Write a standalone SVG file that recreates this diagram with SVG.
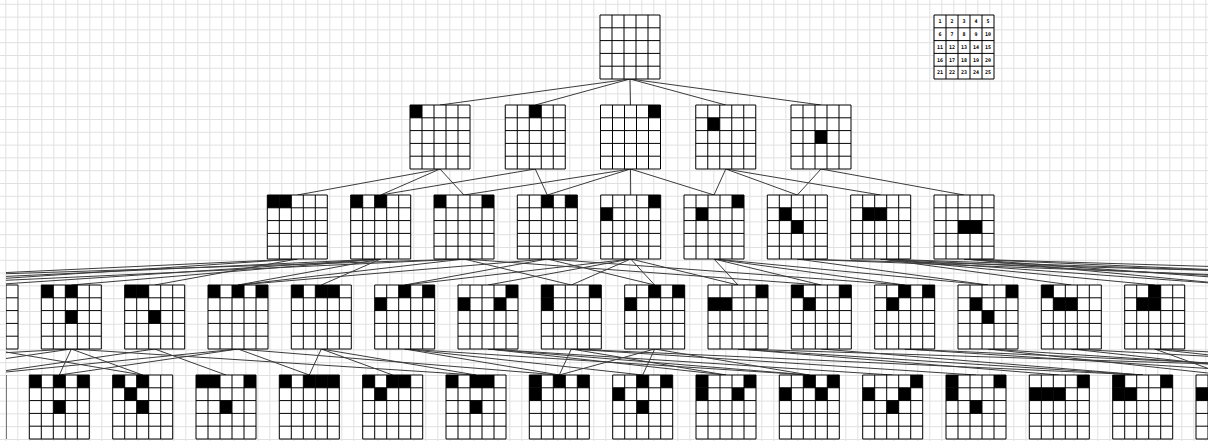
<svg xmlns="http://www.w3.org/2000/svg" width="1208" height="441" viewBox="0 0 1208 441">
<style>
.ln{stroke:#000;stroke-width:1;fill:none}
.e path{stroke:#3c3c3c;stroke-width:1;fill:none}
.t{font-family:"DejaVu Sans Mono","Liberation Mono",monospace;font-size:5px;font-weight:bold;text-anchor:middle;fill:#000}
</style>
<defs>
<pattern id="bg" patternUnits="userSpaceOnUse" x="5.33" y="3.8" width="12" height="12.8"><path d="M0,0.5H12M0.5,0V12.8" stroke="#e0e0e0" stroke-width="1" fill="none"/></pattern>
<g id="g"><rect width="60" height="64" fill="#fff"/><path class="ln" d="M0,0H60V64H0Z M12,0V64M24,0V64M36,0V64M48,0V64M0,12.8H60M0,25.6H60M0,38.4H60M0,51.2H60"/></g>
<rect id="c" width="12" height="12.8" fill="#000"/>
<clipPath id="cl"><rect x="6" y="0" width="1202" height="441"/></clipPath>
</defs>
<rect width="1208" height="441" fill="#fff"/>
<rect width="1208" height="441" fill="url(#bg)"/>
<g clip-path="url(#cl)">
<g id="connectors" class="e">
<path d="M630,79L440,105M630,79L535.25,105M630,79L630.5,105M630,79L725.75,105M630,79L821,105"/>
<path d="M440,169L297.3,195M440,169L380.7,195M440,169L464,195M535.25,169L380.7,195M535.25,169L547.3,195M630.5,169L464,195M630.5,169L547.3,195M630.5,169L630.7,195M630.5,169L714,195M725.75,169L714,195M725.75,169L797.3,195M725.75,169L880.7,195M821,169L797.3,195M821,169L964,195"/>
<path d="M297.3,259L154.7,285M380.7,259L71.3,285M380.7,259L238,285M380.7,259L321.3,285M464,259L238,285M464,259L571.3,285M464,259L821.3,285M547.3,259L238,285M547.3,259L404.7,285M547.3,259L654.7,285M547.3,259L904.7,285M630.7,259L404.7,285M630.7,259L488,285M630.7,259L571.3,285M630.7,259L654.7,285M630.7,259L738,285M714,259L738,285M714,259L821.3,285M714,259L904.7,285M714,259L988,285M797.3,259L988,285M880.7,259L1071.3,285M880.7,259L1154.7,285"/>
<path d="M297.3,259L-95.3,285M297.3,259L-262,285M380.7,259L-12,285M380.7,259L-178.7,285M464,259L-95.3,285M464,259L-345,285M797.3,259L1488,285M797.3,259L1738,285M880.7,259L1238,285M880.7,259L1404.7,285M880.7,259L1654,285M964,259L1238,285M964,259L1321.3,285M964,259L1571.3,285M964,259L1821,285"/>
<path d="M71.3,349L59.3,375M71.3,349L142.7,375M71.3,349L476,375M154.7,349L226,375M238,349L59.3,375M238,349L309.3,375M238,349L559.3,375M321.3,349L309.3,375M321.3,349L392.7,375M321.3,349L476,375M404.7,349L559.3,375M404.7,349L642.7,375M404.7,349L809.3,375M488,349L726,375M488,349L809.3,375M488,349L892.7,375M571.3,349L559.3,375M571.3,349L726,375M571.3,349L976,375M571.3,349L1142.7,375M654.7,349L559.3,375M654.7,349L642.7,375M654.7,349L809.3,375M738,349L1059.3,375M738,349L1142.7,375M821.3,349L1142.7,375"/>
<path d="M-12,349L142.7,375M71.3,349L-107.3,375M154.7,349L-24,375M238,349L-24,375M71.3,349L-390,375M738,349L1559.3,375M904.7,349L1309.3,375M904.7,349L1476,375M988,349L1226,375M988,349L1392.7,375M1071.3,349L1309.3,375M1071.3,349L1559.3,375M1154.7,349L1226,375M1154.7,349L1392.7,375M1154.7,349L1642.7,375"/>
</g>
<g id="n0"><use href="#g" x="600" y="15"/></g>
<g id="n1-1"><use href="#g" x="410" y="105"/><use href="#c" x="410" y="105"/></g>
<g id="n1-2"><use href="#g" x="505.25" y="105"/><use href="#c" x="529.25" y="105"/></g>
<g id="n1-3"><use href="#g" x="600.5" y="105"/><use href="#c" x="648.5" y="105"/></g>
<g id="n1-4"><use href="#g" x="695.75" y="105"/><use href="#c" x="707.75" y="117.8"/></g>
<g id="n1-5"><use href="#g" x="791" y="105"/><use href="#c" x="815" y="130.6"/></g>
<g id="n2-0"><use href="#g" x="267.3" y="195"/><use href="#c" x="267.3" y="195"/><use href="#c" x="279.3" y="195"/></g>
<g id="n2-1"><use href="#g" x="350.7" y="195"/><use href="#c" x="350.7" y="195"/><use href="#c" x="374.7" y="195"/></g>
<g id="n2-2"><use href="#g" x="434" y="195"/><use href="#c" x="434" y="195"/><use href="#c" x="482" y="195"/></g>
<g id="n2-3"><use href="#g" x="517.3" y="195"/><use href="#c" x="541.3" y="195"/><use href="#c" x="565.3" y="195"/></g>
<g id="n2-4"><use href="#g" x="600.7" y="195"/><use href="#c" x="648.7" y="195"/><use href="#c" x="600.7" y="207.8"/></g>
<g id="n2-5"><use href="#g" x="684" y="195"/><use href="#c" x="732" y="195"/><use href="#c" x="696" y="207.8"/></g>
<g id="n2-6"><use href="#g" x="767.3" y="195"/><use href="#c" x="779.3" y="207.8"/><use href="#c" x="791.3" y="220.6"/></g>
<g id="n2-7"><use href="#g" x="850.7" y="195"/><use href="#c" x="862.7" y="207.8"/><use href="#c" x="874.7" y="207.8"/></g>
<g id="n2-8"><use href="#g" x="934" y="195"/><use href="#c" x="958" y="220.6"/><use href="#c" x="970" y="220.6"/></g>
<g id="n3-0"><use href="#g" x="-42" y="285"/></g>
<g id="n3-1"><use href="#g" x="41.3" y="285"/><use href="#c" x="41.3" y="285"/><use href="#c" x="65.3" y="285"/><use href="#c" x="65.3" y="310.6"/></g>
<g id="n3-2"><use href="#g" x="124.7" y="285"/><use href="#c" x="124.7" y="285"/><use href="#c" x="136.7" y="285"/><use href="#c" x="148.7" y="310.6"/></g>
<g id="n3-3"><use href="#g" x="208" y="285"/><use href="#c" x="208" y="285"/><use href="#c" x="232" y="285"/><use href="#c" x="256" y="285"/></g>
<g id="n3-4"><use href="#g" x="291.3" y="285"/><use href="#c" x="291.3" y="285"/><use href="#c" x="315.3" y="285"/><use href="#c" x="327.3" y="285"/></g>
<g id="n3-5"><use href="#g" x="374.7" y="285"/><use href="#c" x="398.7" y="285"/><use href="#c" x="422.7" y="285"/><use href="#c" x="374.7" y="297.8"/></g>
<g id="n3-6"><use href="#g" x="458" y="285"/><use href="#c" x="506" y="285"/><use href="#c" x="458" y="297.8"/><use href="#c" x="494" y="297.8"/></g>
<g id="n3-7"><use href="#g" x="541.3" y="285"/><use href="#c" x="541.3" y="285"/><use href="#c" x="589.3" y="285"/><use href="#c" x="541.3" y="297.8"/></g>
<g id="n3-8"><use href="#g" x="624.7" y="285"/><use href="#c" x="648.7" y="285"/><use href="#c" x="672.7" y="285"/><use href="#c" x="624.7" y="297.8"/></g>
<g id="n3-9"><use href="#g" x="708" y="285"/><use href="#c" x="756" y="285"/><use href="#c" x="708" y="297.8"/><use href="#c" x="720" y="297.8"/></g>
<g id="n3-10"><use href="#g" x="791.3" y="285"/><use href="#c" x="791.3" y="285"/><use href="#c" x="839.3" y="285"/><use href="#c" x="803.3" y="297.8"/></g>
<g id="n3-11"><use href="#g" x="874.7" y="285"/><use href="#c" x="898.7" y="285"/><use href="#c" x="922.7" y="285"/><use href="#c" x="886.7" y="297.8"/></g>
<g id="n3-12"><use href="#g" x="958" y="285"/><use href="#c" x="1006" y="285"/><use href="#c" x="970" y="297.8"/><use href="#c" x="982" y="310.6"/></g>
<g id="n3-13"><use href="#g" x="1041.3" y="285"/><use href="#c" x="1041.3" y="285"/><use href="#c" x="1053.3" y="297.8"/><use href="#c" x="1065.3" y="297.8"/></g>
<g id="n3-14"><use href="#g" x="1124.7" y="285"/><use href="#c" x="1148.7" y="285"/><use href="#c" x="1136.7" y="297.8"/><use href="#c" x="1148.7" y="297.8"/></g>
<g id="n4-0"><use href="#g" x="-54" y="375"/></g>
<g id="n4-1"><use href="#g" x="29.3" y="375"/><use href="#c" x="29.3" y="375"/><use href="#c" x="53.3" y="375"/><use href="#c" x="77.3" y="375"/><use href="#c" x="53.3" y="400.6"/></g>
<g id="n4-2"><use href="#g" x="112.7" y="375"/><use href="#c" x="112.7" y="375"/><use href="#c" x="136.7" y="375"/><use href="#c" x="124.7" y="387.8"/><use href="#c" x="136.7" y="400.6"/></g>
<g id="n4-3"><use href="#g" x="196" y="375"/><use href="#c" x="196" y="375"/><use href="#c" x="208" y="375"/><use href="#c" x="244" y="375"/><use href="#c" x="220" y="400.6"/></g>
<g id="n4-4"><use href="#g" x="279.3" y="375"/><use href="#c" x="279.3" y="375"/><use href="#c" x="303.3" y="375"/><use href="#c" x="315.3" y="375"/><use href="#c" x="327.3" y="375"/></g>
<g id="n4-5"><use href="#g" x="362.7" y="375"/><use href="#c" x="362.7" y="375"/><use href="#c" x="386.7" y="375"/><use href="#c" x="398.7" y="375"/><use href="#c" x="374.7" y="387.8"/></g>
<g id="n4-6"><use href="#g" x="446" y="375"/><use href="#c" x="446" y="375"/><use href="#c" x="470" y="375"/><use href="#c" x="482" y="375"/><use href="#c" x="470" y="400.6"/></g>
<g id="n4-7"><use href="#g" x="529.3" y="375"/><use href="#c" x="529.3" y="375"/><use href="#c" x="553.3" y="375"/><use href="#c" x="577.3" y="375"/><use href="#c" x="529.3" y="387.8"/></g>
<g id="n4-8"><use href="#g" x="612.7" y="375"/><use href="#c" x="636.7" y="375"/><use href="#c" x="660.7" y="375"/><use href="#c" x="612.7" y="387.8"/><use href="#c" x="636.7" y="400.6"/></g>
<g id="n4-9"><use href="#g" x="696" y="375"/><use href="#c" x="696" y="375"/><use href="#c" x="744" y="375"/><use href="#c" x="696" y="387.8"/><use href="#c" x="732" y="387.8"/></g>
<g id="n4-10"><use href="#g" x="779.3" y="375"/><use href="#c" x="803.3" y="375"/><use href="#c" x="827.3" y="375"/><use href="#c" x="779.3" y="387.8"/><use href="#c" x="815.3" y="387.8"/></g>
<g id="n4-11"><use href="#g" x="862.7" y="375"/><use href="#c" x="910.7" y="375"/><use href="#c" x="862.7" y="387.8"/><use href="#c" x="898.7" y="387.8"/><use href="#c" x="886.7" y="400.6"/></g>
<g id="n4-12"><use href="#g" x="946" y="375"/><use href="#c" x="946" y="375"/><use href="#c" x="994" y="375"/><use href="#c" x="946" y="387.8"/><use href="#c" x="970" y="400.6"/></g>
<g id="n4-13"><use href="#g" x="1029.3" y="375"/><use href="#c" x="1077.3" y="375"/><use href="#c" x="1029.3" y="387.8"/><use href="#c" x="1041.3" y="387.8"/><use href="#c" x="1053.3" y="387.8"/></g>
<g id="n4-14"><use href="#g" x="1112.7" y="375"/><use href="#c" x="1112.7" y="375"/><use href="#c" x="1160.7" y="375"/><use href="#c" x="1112.7" y="387.8"/><use href="#c" x="1124.7" y="387.8"/></g>
<g id="n4-15"><use href="#g" x="1196" y="375"/><use href="#c" x="1196" y="387.8"/></g>
</g>
<g id="legend">
<use href="#g" x="934" y="15"/>
<text class="t" x="940" y="23.2">1</text><text class="t" x="952" y="23.2">2</text><text class="t" x="964" y="23.2">3</text><text class="t" x="976" y="23.2">4</text><text class="t" x="988" y="23.2">5</text>
<text class="t" x="940" y="36">6</text><text class="t" x="952" y="36">7</text><text class="t" x="964" y="36">8</text><text class="t" x="976" y="36">9</text><text class="t" x="988" y="36">10</text>
<text class="t" x="940" y="48.8">11</text><text class="t" x="952" y="48.8">12</text><text class="t" x="964" y="48.8">13</text><text class="t" x="976" y="48.8">14</text><text class="t" x="988" y="48.8">15</text>
<text class="t" x="940" y="61.6">16</text><text class="t" x="952" y="61.6">17</text><text class="t" x="964" y="61.6">18</text><text class="t" x="976" y="61.6">19</text><text class="t" x="988" y="61.6">20</text>
<text class="t" x="940" y="74.4">21</text><text class="t" x="952" y="74.4">22</text><text class="t" x="964" y="74.4">23</text><text class="t" x="976" y="74.4">24</text><text class="t" x="988" y="74.4">25</text>
</g>
</svg>
